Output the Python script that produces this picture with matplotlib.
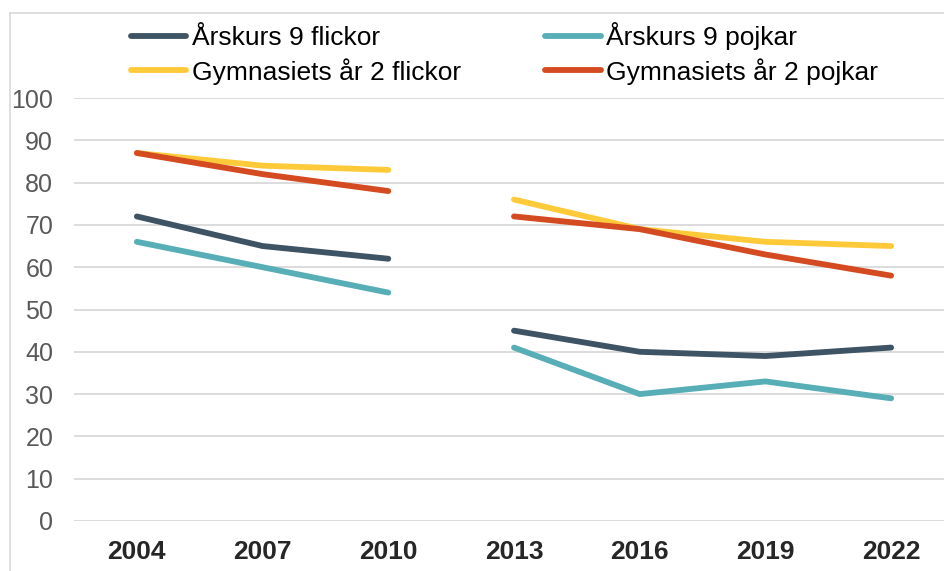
import numpy as np
import matplotlib.pyplot as plt
from matplotlib.lines import Line2D

plt.rcParams['font.family'] = ['Liberation Sans', 'DejaVu Sans']

years = ['2004', '2007', '2010', '2013', '2016', '2019', '2022']
ak9_flickor = [72, 65, 62, 45, 40, 39, 41]
ak9_pojkar = [66, 60, 54, 41, 30, 33, 29]
gy2_flickor = [87, 84, 83, 76, 69, 66, 65]
gy2_pojkar = [87, 82, 78, 72, 69, 63, 58]

series = [
    ('Årskurs 9 flickor', ak9_flickor, '#3E5364'),
    ('Gymnasiets år 2 flickor', gy2_flickor, '#FFCA3A'),
    ('Årskurs 9 pojkar', ak9_pojkar, '#58AEB6'),
    ('Gymnasiets år 2 pojkar', gy2_pojkar, '#D44A21'),
]

W, H = 944, 571
fig = plt.figure(figsize=(W / 100, H / 100), dpi=100)
ax = fig.add_axes([74 / W, 1 - 521 / H, 880 / W, 423 / H])

x = np.arange(len(years))
# break between 2010 and 2013
draw_order = [series[2], series[0], series[1], series[3]]
handles = {}
for label, vals, col in draw_order:
    v = np.array(vals, dtype=float)
    ln, = ax.plot(x[:3], v[:3], color=col, lw=4.2, solid_capstyle='round',
                  solid_joinstyle='round', label=label)
    ax.plot(x[3:], v[3:], color=col, lw=4.2, solid_capstyle='round',
            solid_joinstyle='round')
    handles[label] = ln

ax.set_xlim(-0.5, len(years) - 0.5)
ax.set_ylim(0, 100)
ax.set_yticks(range(0, 101, 10))
ax.set_xticks(x)
ax.set_xticklabels(years, fontsize=19, fontweight='bold', color='#262626')
ax.tick_params(axis='y', labelsize=18, labelcolor='#595959', length=0, pad=15)
ax.tick_params(axis='x', length=0, pad=14)
ax.grid(axis='y', color='#D9D9D9', lw=1.3)
ax.set_axisbelow(True)
for s in ax.spines.values():
    s.set_visible(False)

order = [s[0] for s in series]
fig.legend([handles[k] for k in order], order, loc='upper left',
           bbox_to_anchor=(131 / W, 1 - 22 / H), ncol=2, frameon=False,
           fontsize=19, handlelength=2.1, handletextpad=0.2,
           columnspacing=3.2, labelspacing=0.3, borderaxespad=0,
           borderpad=0)

# outer chart frame
fig.add_artist(Line2D([9.5 / W, 9.5 / W], [0, 1 - 13 / H], color='#D9D9D9',
                      lw=1.2, transform=fig.transFigure))
fig.add_artist(Line2D([9.5 / W, 1], [1 - 13 / H, 1 - 13 / H], color='#D9D9D9',
                      lw=1.2, transform=fig.transFigure))

fig.savefig('out.png', dpi=100)
